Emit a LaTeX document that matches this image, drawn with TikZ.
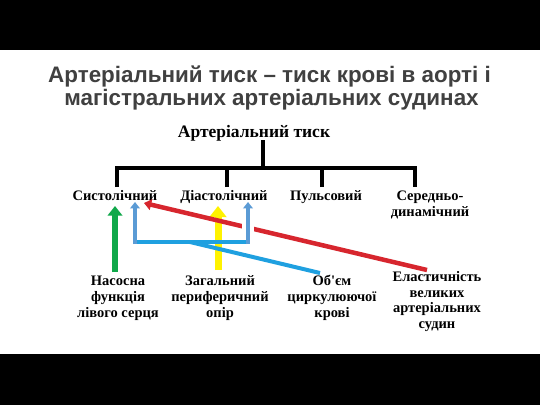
\documentclass[tikz,border=0pt]{standalone}
\usepackage{fontspec}
\setmainfont{Liberation Serif}
\newfontfamily\titlefont{Liberation Sans}
\usetikzlibrary{arrows.meta}
\definecolor{titlegray}{HTML}{404040}
\definecolor{arrgreen}{HTML}{10A84A}
\definecolor{arryellow}{HTML}{FFF200}
\definecolor{arrred}{HTML}{D7262E}
\definecolor{steelb}{HTML}{5B9BD5}
\definecolor{brightb}{HTML}{1FA0E0}
\begin{document}
\begin{tikzpicture}[x=1pt,y=-1pt,
  titletxt/.style={font=\titlefont\bfseries\fontsize{22.4}{22}\selectfont, text=titlegray, anchor=base, inner sep=0pt},
  headtxt/.style={font=\bfseries\fontsize{17.5}{19}\selectfont, anchor=base, inner sep=0pt},
  lvltxt/.style={font=\bfseries\fontsize{14.5}{16}\selectfont, align=center, anchor=base, inner sep=0pt},
  tree/.style={line width=4pt, black},
  thickarrow/.style={line width=#1, -{Triangle[width=2.4*#1, length=1.6*#1]}},
]
\useasboundingbox (0,0) rectangle (540,405);
\fill[black] (0,0) rectangle (540,405);
\fill[white] (0,50) rectangle (540,354);

% title
\node[titletxt] (title1) at (269.5,82) {Артеріальний тиск – тиск крові в аорті і};
\node[titletxt] (title2) at (271.5,105.5) {магістральних артеріальних судинах};

% tree (multi-line nodes: base = last line)
\node[headtxt] (root) at (254,137) {Артеріальний тиск};
\node[lvltxt] (sys) at (115,200) {Систолічний};
\node[lvltxt] (dia) at (224,200) {Діастолічний};
\node[lvltxt] (pul) at (326,200) {Пульсовий};
\node[lvltxt] (ser) at (430,216) {Середньо-\\динамічний};

\coordinate (rootbot) at (263,140);
\coordinate (bus) at (263,168);
\coordinate (d1) at (117,187);
\coordinate (d2) at (227,187);
\coordinate (d3) at (322,187);
\coordinate (d4) at (415,187);
\draw[tree] (rootbot) -- (bus);
\draw[tree] (d1) |- (d4 |- bus) -- (d4);
\draw[tree] (d2) -- (d2 |- bus);
\draw[tree] (d3) -- (d3 |- bus);

% bottom labels
\node[lvltxt] (nas) at (118,317) {Насосна\\функція\\лівого серця};
\node[lvltxt] (zag) at (220,317) {Загальний\\периферичний\\опір};
\node[lvltxt] (obm) at (332,317) {Об\textquotesingle єм\\циркулюючої\\крові};
\node[lvltxt, font=\bfseries\fontsize{14.5}{15.4}\selectfont] (ela) at (437,328) {Еластичність\\великих\\артеріальних\\судин};

% arrow coordinates
\coordinate (gS) at (115,272);
\coordinate (gT) at (115,206);
\coordinate (yS) at (218,270);
\coordinate (yT) at (218,206);
\coordinate (bL) at (135,202);
\coordinate (bR) at (248,202);
\coordinate (bLb) at (135,244);
\coordinate (bRb) at (248,244);
\coordinate (bLh) at (135,242);
\coordinate (bRh) at (248,242);
\coordinate (bM) at (190,242);
\coordinate (lbE) at (320,273);
\coordinate (rS) at (427,270);
\coordinate (rT) at (144,203);
\coordinate (gapA) at (248,219);
\coordinate (gapB) at (248,236);

% green and yellow
\draw[thickarrow=6pt, arrgreen] (gS) -- (gT);
\draw[thickarrow=7pt, arryellow] (yS) -- (yT);
% red
\draw[thickarrow=4.5pt, arrred] (rS) -- (rT);
% white gap around right bracket leg
\draw[white, line width=12pt] (gapA) -- (gapB);
% bracket
\draw[brightb, line width=4pt] (bLh) -- (bRh);
\draw[thickarrow=4pt, steelb] (bLb) -- (bL);
\draw[thickarrow=4pt, steelb] (bRb) -- (bR);
% light blue diagonal
\draw[brightb, line width=4pt] (bM) -- (lbE);
\end{tikzpicture}
\end{document}
